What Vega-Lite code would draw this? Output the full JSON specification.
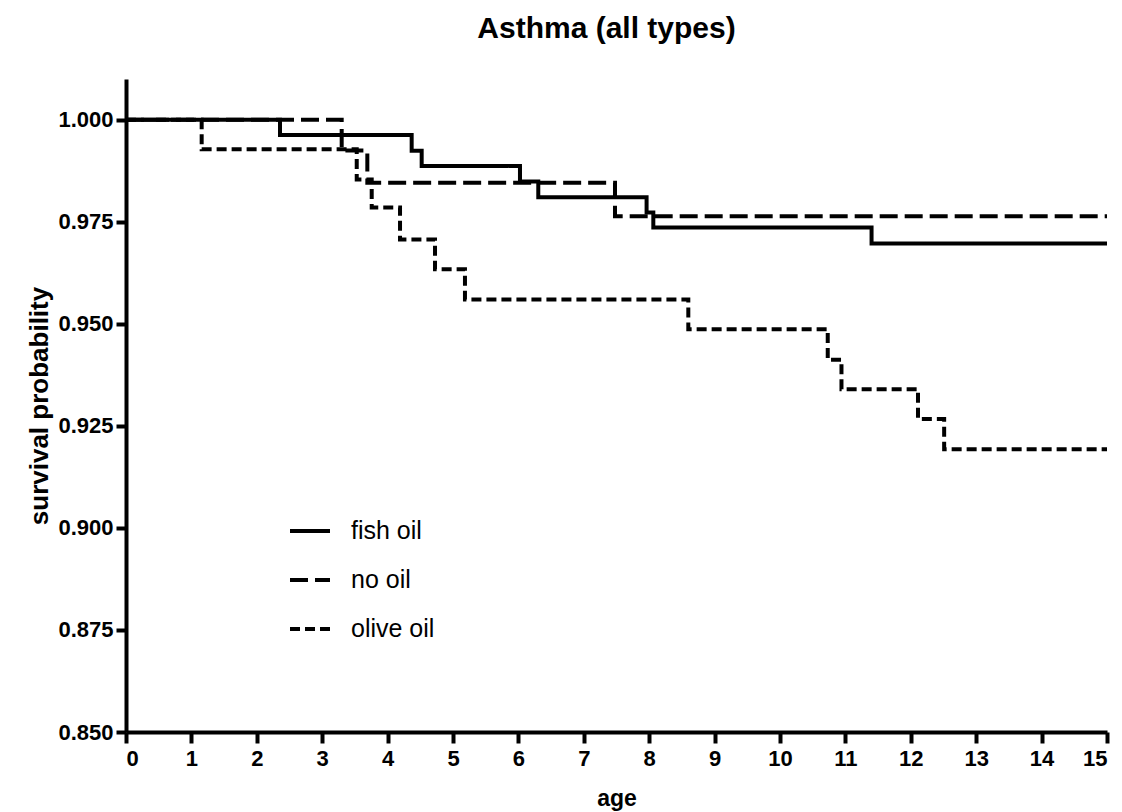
{
  "$schema": "https://vega.github.io/schema/vega-lite/v6.json",
  "width": 981,
  "height": 653,
  "autosize": "none",
  "padding": {"left": 126, "top": 79, "right": 15, "bottom": 80},
  "background": "white",
  "title": {"text": "Asthma (all types)", "font": "Liberation Sans", "fontSize": 30, "fontWeight": "bold", "color": "black", "offset": 35, "anchor": "middle", "dx": -10},
  "data": {"values": [
    {"group": "fish oil", "age": 0, "surv": 1.0},
    {"group": "fish oil", "age": 2.355, "surv": 0.9963},
    {"group": "fish oil", "age": 4.368, "surv": 0.9924},
    {"group": "fish oil", "age": 4.521, "surv": 0.9887},
    {"group": "fish oil", "age": 6.024, "surv": 0.9849},
    {"group": "fish oil", "age": 6.304, "surv": 0.981},
    {"group": "fish oil", "age": 7.96, "surv": 0.9773},
    {"group": "fish oil", "age": 8.063, "surv": 0.9736},
    {"group": "fish oil", "age": 11.4, "surv": 0.9697},
    {"group": "fish oil", "age": 15, "surv": 0.9697},
    {"group": "no oil", "age": 0, "surv": 1.0},
    {"group": "no oil", "age": 3.298, "surv": 0.9925},
    {"group": "no oil", "age": 3.69, "surv": 0.9846},
    {"group": "no oil", "age": 7.477, "surv": 0.9764},
    {"group": "no oil", "age": 15, "surv": 0.9764},
    {"group": "olive oil", "age": 0, "surv": 1.0},
    {"group": "olive oil", "age": 1.157, "surv": 0.9928},
    {"group": "olive oil", "age": 3.528, "surv": 0.9854},
    {"group": "olive oil", "age": 3.757, "surv": 0.9785},
    {"group": "olive oil", "age": 4.19, "surv": 0.9707},
    {"group": "olive oil", "age": 4.725, "surv": 0.9634},
    {"group": "olive oil", "age": 5.183, "surv": 0.956},
    {"group": "olive oil", "age": 8.598, "surv": 0.9487},
    {"group": "olive oil", "age": 10.73, "surv": 0.9412},
    {"group": "olive oil", "age": 10.94, "surv": 0.934},
    {"group": "olive oil", "age": 12.11, "surv": 0.9267},
    {"group": "olive oil", "age": 12.51, "surv": 0.9193},
    {"group": "olive oil", "age": 15, "surv": 0.9193}
  ]},
  "mark": {"type": "line", "interpolate": "step-after", "color": "black", "strokeWidth": 4, "strokeCap": "butt", "clip": false},
  "encoding": {
    "x": {"field": "age", "type": "quantitative",
      "scale": {"domain": [0, 15], "nice": false, "zero": false},
      "axis": {"title": "age", "values": [0,1,2,3,4,5,6,7,8,9,10,11,12,13,14,15], "grid": false,
        "domainColor": "black", "domainWidth": 4, "tickColor": "black", "tickWidth": 4, "tickSize": 11,
        "labelFont": "Liberation Sans", "labelFontSize": 22, "labelFontWeight": "bold", "labelColor": "black", "labelPadding": 5,
        "titleFont": "Liberation Sans", "titleFontSize": 23, "titleFontWeight": "bold", "titleColor": "black", "titlePadding": 18}},
    "y": {"field": "surv", "type": "quantitative",
      "scale": {"domain": [0.85, 1.01], "nice": false, "zero": false},
      "axis": {"title": "survival probability", "values": [0.85, 0.875, 0.9, 0.925, 0.95, 0.975, 1.0], "format": ".3f", "grid": false,
        "domainColor": "black", "domainWidth": 4, "tickColor": "black", "tickWidth": 4, "tickSize": 10,
        "labelFont": "Liberation Sans", "labelFontSize": 22, "labelFontWeight": "bold", "labelColor": "black", "labelPadding": 3,
        "titleFont": "Liberation Sans", "titleFontSize": 26, "titleFontWeight": "bold", "titleColor": "black", "titlePadding": 5}},
    "strokeDash": {"field": "group", "type": "nominal",
      "scale": {"domain": ["fish oil", "no oil", "olive oil"], "range": [[1, 0], [18, 7], [10, 5]]},
      "legend": {"title": null, "orient": "none", "legendX": 162, "legendY": 430,
        "symbolType": "stroke", "symbolSize": 1600, "symbolStrokeWidth": 4, "symbolStrokeColor": "black",
        "labelFont": "Liberation Sans", "labelFontSize": 25, "labelColor": "black", "labelOffset": 19, "rowPadding": 14}}
  },
  "config": {"view": {"stroke": null}}
}
